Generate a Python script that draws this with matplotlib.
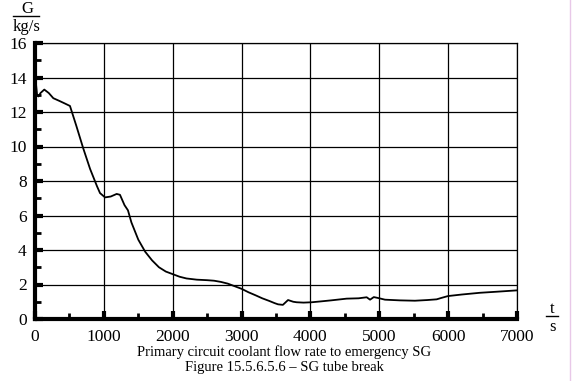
import matplotlib
matplotlib.use("Agg")
import matplotlib.pyplot as plt
from matplotlib.ticker import MultipleLocator
from matplotlib.lines import Line2D

time_s = [0, 15, 30, 50, 80, 135, 200, 266, 350, 430, 508, 600, 700, 800, 900, 944,
          1017, 1100, 1186, 1234, 1300, 1350, 1400, 1500, 1600, 1700, 1800, 1900, 2000,
          2100, 2200, 2350, 2500, 2600, 2700, 2800, 2900, 3000, 3100, 3200, 3300, 3400,
          3480, 3530, 3600, 3675, 3750, 3800, 3900, 4018, 4150, 4300, 4526, 4700, 4817,
          4866, 4920, 4980, 5083, 5300, 5518, 5700, 5833, 5900, 5998, 6200, 6462, 6700,
          7000]
flow_kgs = [12.9, 13.6, 13.0, 12.9, 13.1, 13.3, 13.1, 12.8, 12.65, 12.5, 12.35, 11.2, 9.9, 8.7, 7.7, 7.3,
            7.05, 7.1, 7.25, 7.2, 6.6, 6.3, 5.6, 4.6, 3.9, 3.4, 3.0, 2.75, 2.6,
            2.45, 2.35, 2.28, 2.25, 2.22, 2.15, 2.05, 1.9, 1.75, 1.55, 1.38, 1.2, 1.05,
            0.92, 0.85, 0.82, 1.1, 1.0, 0.97, 0.95, 0.97, 1.02, 1.08, 1.18, 1.2, 1.26,
            1.12, 1.27, 1.22, 1.12, 1.08, 1.06, 1.1, 1.14, 1.22, 1.33, 1.42, 1.52, 1.58,
            1.66]

x_major = [0, 1000, 2000, 3000, 4000, 5000, 6000, 7000]
y_major = [0, 2, 4, 6, 8, 10, 12, 14, 16]

plt.rcParams['font.family'] = ['Liberation Serif', 'DejaVu Serif']

fig = plt.figure(figsize=(5.73, 3.81), dpi=100)
ax = fig.add_axes([35/573, 1 - 319/381, (517-35)/573, (319-43)/381])

ax.plot(time_s, flow_kgs, color='black', lw=1.3)
ax.set_xlim(0, 7000)
ax.set_ylim(0, 16)
ax.set_xticks(x_major)
ax.set_yticks(y_major)
ax.xaxis.set_minor_locator(MultipleLocator(500))
ax.yaxis.set_minor_locator(MultipleLocator(1))
ax.grid(True, which='major', color='black', lw=0.9)
ax.tick_params(which='major', direction='in', length=6, width=3, labelsize=12.5, pad=7, color='black')
ax.tick_params(which='minor', direction='in', length=4, width=2, color='black')
ax.tick_params(axis='y', which='major', pad=6)
for side in ['top', 'right']:
    ax.spines[side].set_linewidth(0.9)
for side in ['left', 'bottom']:
    ax.spines[side].set_linewidth(3)

# axis labels in fraction style
fig.text(27/573, 1 - 9/381, 'G', ha='center', va='center', fontsize=12)
fig.add_artist(Line2D([13/573, 39/573], [1 - 15.5/381, 1 - 15.5/381], color='black', lw=1))
fig.text(27/573, 1 - 27/381, 'kg/s', ha='center', va='center', fontsize=12)

fig.text(552/573, 1 - 309/381, 't', ha='center', va='center', fontsize=12)
fig.add_artist(Line2D([546/573, 558/573], [1 - 316/381, 1 - 316/381], color='black', lw=1))
fig.text(552/573, 1 - 327/381, 's', ha='center', va='center', fontsize=12)

fig.text(284/573, 1 - 352/381, 'Primary circuit coolant flow rate to emergency SG',
         ha='center', va='center', fontsize=10.5)
fig.text(284/573, 1 - 368/381, 'Figure 15.5.6.5.6 \u2013 SG tube break',
         ha='center', va='center', fontsize=10.5)

fig.add_artist(Line2D([570/573, 570/573], [0, 1], color='#e8c8e8', lw=1))

fig.savefig('out.png', dpi=100)
